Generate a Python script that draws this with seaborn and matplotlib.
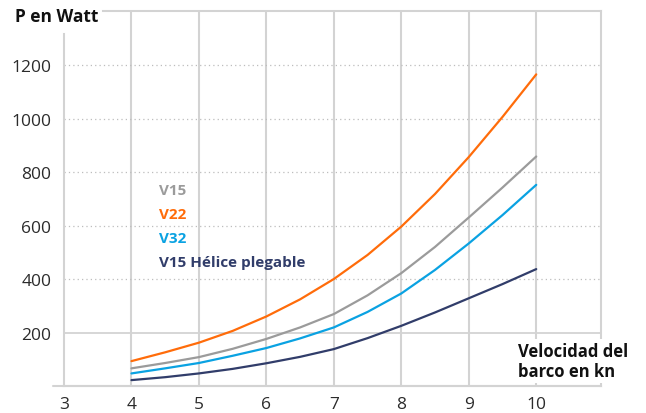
import numpy as np
import pandas as pd
import matplotlib
matplotlib.use("Agg")
import matplotlib.pyplot as plt
import seaborn as sns

# speeds in knots, power in watt
speed = [4, 4.5, 5, 5.5, 6, 6.5, 7, 7.5, 8, 8.5, 9, 9.5, 10]
v15 = [66, 86, 108, 139, 176, 219, 269, 339, 422, 520, 630, 742, 858]
v22 = [93, 126, 162, 206, 260, 324, 400, 490, 596, 718, 856, 1006, 1165]
v32 = [47, 66, 86, 113, 142, 178, 219, 277, 346, 434, 533, 639, 752]
v15_plegable = [22, 33, 47, 64, 85, 109, 138, 179, 225, 275, 328, 381, 437]

series_names = ["V15", "V22", "V32", "V15 Hélice plegable"]
series_colors = ["#9b9b9b", "#ff6c0a", "#0aa2e2", "#313d6a"]
x_ticks = [3, 4, 5, 6, 7, 8, 9, 10]
y_ticks = [200, 400, 600, 800, 1000, 1200]

frames = []
for name, vals in zip(series_names, [v15, v22, v32, v15_plegable]):
    frames.append(pd.DataFrame({"speed": speed, "watt": vals, "modelo": name}))
df = pd.concat(frames, ignore_index=True)

sns.set_theme(style="white")
plt.rcParams["font.family"] = ["Open Sans", "DejaVu Sans"]

grid_col = "#d3d3d3"
text_col = "#2b2b2b"

fig = plt.figure(figsize=(6.46, 4.14), dpi=100)
ax = fig.add_axes([64 / 646, 27 / 414, 537 / 646, 375 / 414])

sns.lineplot(data=df, x="speed", y="watt", hue="modelo", hue_order=series_names,
             palette=series_colors, linewidth=1.6, ax=ax, zorder=3)

ax.set_xlim(3, 10.96)
ax.set_ylim(0, 1402)
ax.set_xticks(x_ticks)
ax.set_yticks(y_ticks)
ax.set_xlabel("")
ax.set_ylabel("")
ax.tick_params(axis="both", length=0, labelsize=12.5, colors=text_col)
ax.tick_params(axis="y", pad=9)
ax.tick_params(axis="x", pad=7)

# grid: solid verticals, dotted horizontals (200 solid)
for xv in x_ticks[1:]:
    ax.axvline(xv, color=grid_col, lw=1.5, zorder=1)
for yv in y_ticks:
    if yv == 200:
        ax.axhline(yv, color=grid_col, lw=1.3, zorder=1)
    else:
        ax.axhline(yv, color="#bdbdbd", lw=0.9, ls=(0, (1, 2.5)), zorder=1)

for side in ["top", "right", "left", "bottom"]:
    ax.spines[side].set_color(grid_col)
    ax.spines[side].set_linewidth(1.5)
ax.spines["left"].set_bounds(0, 1316)
ax.spines["top"].set_bounds(3.58, 10.96)
# bottom axis line sticks out a bit to the left
ax.axhline(0, xmin=-0.02, xmax=1, color=grid_col, lw=1.5, clip_on=False, zorder=2)

# legend as coloured bold labels
leg = ax.legend(loc="upper left", bbox_to_anchor=(0.163, 0.562), frameon=False,
                handlelength=0, handletextpad=0, borderpad=0, labelspacing=0.66,
                labelcolor="linecolor", prop={"weight": "bold", "size": 11})
for h in leg.legend_handles:
    h.set_visible(False)

fig.text(15 / 646, 1 - 17 / 414, "P en Watt", fontsize=12.5, fontweight="bold",
         color="#111111", va="center", ha="left")
fig.text(518 / 646, 1 - 362 / 414, "Velocidad del\nbarco en kn", fontsize=12,
         fontweight="bold", color="#111111", va="center", ha="left",
         linespacing=1.15,
         bbox=dict(facecolor="white", edgecolor="none", pad=2))

fig.savefig("out.png", dpi=100)
